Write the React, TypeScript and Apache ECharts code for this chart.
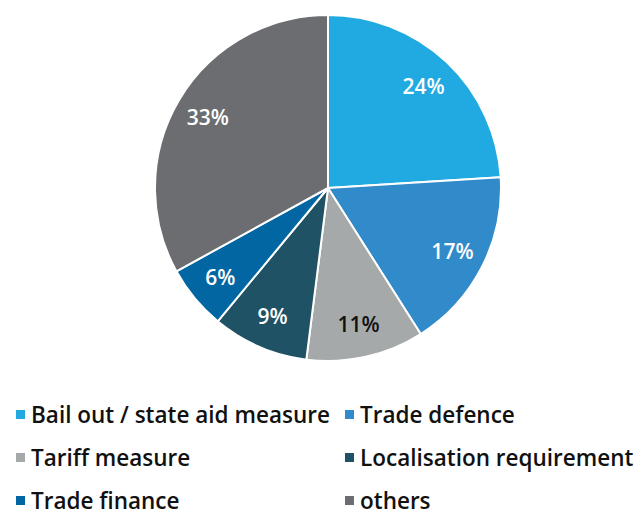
import React, { useEffect, useRef } from "react";
import * as echarts from "echarts";

const categories = [
  "Bail out / state aid measure",
  "Trade defence",
  "Tariff measure",
  "Localisation requirement",
  "Trade finance",
  "others",
];
const values = [24, 17, 11, 9, 6, 33];
const colors = ["#20AAE1", "#318AC9", "#A6A9AA", "#1F5264", "#0266A3", "#6C6D71"];
const labelColors = ["#ffffff", "#ffffff", "#111111", "#ffffff", "#ffffff", "#ffffff"];
const legendLeft = [categories[0], categories[2], categories[4]];
const legendRight = [categories[1], categories[3], categories[5]];

const RADIUS = 173;
const LABEL_RATIO = 0.79;

export default function App() {
  const ref = useRef<HTMLDivElement>(null);
  useEffect(() => {
    if (!ref.current) return;
    const chart = echarts.init(ref.current, undefined, { renderer: "svg" });
    const total = values.reduce((a, b) => a + b, 0);
    const mids: number[] = [];
    let acc = 0;
    values.forEach((v) => {
      mids.push(((acc + v / 2) / total) * Math.PI * 2);
      acc += v;
    });
    const shift = (LABEL_RATIO - 0.5) * RADIUS;
    const legendCommon = {
      orient: "vertical" as const,
      icon: "rect",
      itemWidth: 11,
      itemHeight: 11,
      itemGap: 20,
      top: 403,
      height: 300,
      padding: 0,
      textStyle: {
        fontFamily: "Open Sans",
        fontSize: 22.5,
        fontWeight: 600,
        color: "#111111",
        lineHeight: 23,
      },
    };
    chart.setOption({
      animation: false,
      backgroundColor: "#ffffff",
      color: colors,
      legend: [
        { ...legendCommon, left: 14, data: legendLeft },
        { ...legendCommon, left: 343, data: legendRight },
      ],
      series: [
        {
          type: "pie",
          center: [328, 188],
          radius: [0, RADIUS],
          startAngle: 90,
          clockwise: true,
          itemStyle: { borderColor: "#ffffff", borderWidth: 2 },
          label: {
            show: true,
            position: "inside",
            formatter: "{c}%",
            fontFamily: "Open Sans",
            fontSize: 21,
            fontWeight: 600,
          },
          labelLine: { show: false },
          labelLayout: (params: any) => {
            const a = mids[params.dataIndex];
            return { dx: shift * Math.sin(a), dy: -shift * Math.cos(a) };
          },
          emphasis: { disabled: true },
          data: categories.map((name, i) => ({
            name,
            value: values[i],
            label: { color: labelColors[i] },
          })),
        },
      ],
    });
    return () => chart.dispose();
  }, []);
  return (
    <div
      ref={ref}
      style={{ position: "absolute", left: 0, top: 0, width: 638, height: 512 }}
    />
  );
}
